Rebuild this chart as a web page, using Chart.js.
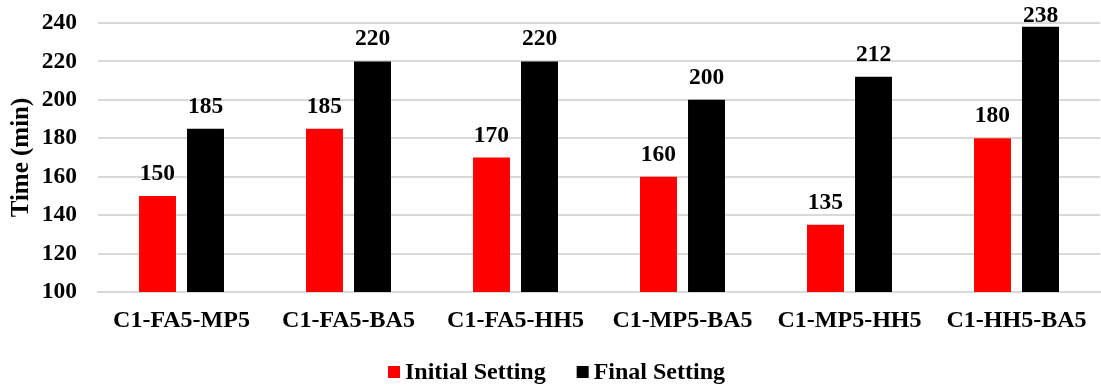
<!DOCTYPE html>
<html>
<head>
<meta charset="utf-8">
<script src="https://cdn.jsdelivr.net/npm/chart.js@4"></script>
<style>
  html, body { margin: 0; padding: 0; background: #ffffff; }
  #wrap { width: 1101px; height: 389px; }
</style>
</head>
<body>
<div id="wrap"><canvas id="chart" width="1101" height="389"></canvas></div>
<script>
// Run configurations and their measured times (minutes)
const categories = ['C1-FA5-MP5', 'C1-FA5-BA5', 'C1-FA5-HH5', 'C1-MP5-BA5', 'C1-MP5-HH5', 'C1-HH5-BA5'];
const initialSetting = [150, 185, 170, 160, 135, 180];
const finalSetting = [185, 220, 220, 200, 212, 238];
const seriesNames = ['Initial Setting', 'Final Setting'];
const yTicks = { min: 100, max: 240, step: 20 };

const FONT = '"Liberation Serif", "Times New Roman", serif';
const LEGEND_SPACE = 34;

// Writes each bar's value above it, kept inside the canvas at the top
const valueLabels = {
  id: 'valueLabels',
  afterDatasetsDraw(chart) {
    const ctx = chart.ctx;
    ctx.save();
    ctx.font = 'bold 23.5px ' + FONT;
    ctx.fillStyle = '#000000';
    ctx.textAlign = 'center';
    ctx.textBaseline = 'alphabetic';
    chart.data.datasets.forEach((ds, i) => {
      chart.getDatasetMeta(i).data.forEach((bar, j) => {
        const y = Math.max(bar.y - 16, 22);
        ctx.fillText(String(ds.data[j]), bar.x, y);
      });
    });
    ctx.restore();
  }
};

// Compact legend row under the axis: small square swatch, tight gap, wider gap between entries
const bottomLegend = {
  id: 'bottomLegend',
  afterDraw(chart) {
    const ctx = chart.ctx;
    const box = 12, swatchGap = 5, itemGap = 31;
    ctx.save();
    ctx.font = 'bold 24px ' + FONT;
    ctx.textBaseline = 'middle';
    ctx.textAlign = 'left';
    const items = chart.data.datasets.map(ds => ({
      text: ds.label, color: ds.backgroundColor, w: ctx.measureText(ds.label).width
    }));
    const total = items.reduce((s, it) => s + box + swatchGap + it.w, 0) + itemGap * (items.length - 1);
    let x = chart.width / 2 + 6 - total / 2;
    const cy = chart.height - LEGEND_SPACE / 2;
    items.forEach(it => {
      ctx.fillStyle = it.color;
      ctx.fillRect(x, cy - box / 2, box, box);
      x += box + swatchGap;
      ctx.fillStyle = '#000000';
      ctx.fillText(it.text, x, cy + 1);
      x += it.w + itemGap;
    });
    ctx.restore();
  }
};

Chart.defaults.font.family = FONT;
Chart.defaults.color = '#000000';

new Chart(document.getElementById('chart'), {
  type: 'bar',
  data: {
    labels: categories,
    datasets: [
      { label: seriesNames[0], data: initialSetting, backgroundColor: '#ff0000',
        categoryPercentage: 0.575, barPercentage: 0.77 },
      { label: seriesNames[1], data: finalSetting, backgroundColor: '#000000',
        categoryPercentage: 0.575, barPercentage: 0.77 }
    ]
  },
  options: {
    responsive: false,
    animation: false,
    layout: { padding: { top: 23, right: 1, left: 0, bottom: LEGEND_SPACE } },
    scales: {
      x: {
        afterFit(scale) { scale.height = 63; scale.paddingLeft = 0; scale.paddingRight = 0; },
        grid: { display: false, drawTicks: false },
        border: { display: true, color: '#d9d9d9', width: 2 },
        ticks: { font: { size: 24, weight: 'bold' }, color: '#000000', padding: 14, maxRotation: 0 }
      },
      y: {
        min: yTicks.min,
        max: yTicks.max,
        afterFit(scale) { scale.width = 98; scale.paddingTop = 0; scale.paddingBottom = 0; },
        grid: { color: '#d9d9d9', lineWidth: 2, drawTicks: false },
        border: { display: false },
        ticks: { stepSize: yTicks.step, font: { size: 23.5, weight: 'bold' }, color: '#000000', padding: 21 },
        title: { display: true, text: 'Time (min)', font: { size: 25, weight: 'bold' }, color: '#000000',
                 padding: { top: 7, bottom: 0 } }
      }
    },
    plugins: {
      legend: { display: false },
      tooltip: { enabled: false }
    }
  },
  plugins: [valueLabels, bottomLegend]
});
</script>
</body>
</html>
